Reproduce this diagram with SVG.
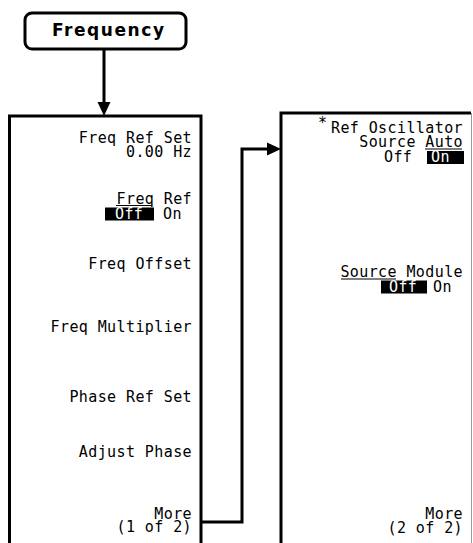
<svg xmlns="http://www.w3.org/2000/svg" width="473" height="543" viewBox="0 0 473 543">
<style>
.box{fill:#fff;stroke:#000;stroke-width:3}
.ln{fill:none;stroke:#000;stroke-width:3}
.t{font-family:"DejaVu Sans Mono","Liberation Mono",monospace;font-size:15px;letter-spacing:0.4px;fill:#000;text-anchor:end}
.ts{font-family:"DejaVu Sans Mono","Liberation Mono",monospace;font-size:15px;letter-spacing:0.4px;fill:#000}
.w{fill:#fff}
.hl{fill:#000}
.u{stroke:#000;stroke-width:1.2}
</style>
<g id="connectors">
<path class="ln" d="M104,49 V104"/>
<path d="M97.5,102 L110.5,102 L104,116 Z" fill="#000"/>
<path class="ln" d="M201,522 H242 V149 H268"/>
<path d="M267,142.5 L281,149 L267,155.5 Z" fill="#000"/>
</g>
<g id="frequency">
<rect x="25" y="13" width="161" height="36" rx="7" class="box"/>
<text x="108" y="36" font-family="DejaVu Sans,Liberation Sans,sans-serif" font-weight="bold" font-size="17" text-anchor="middle" textLength="112" lengthAdjust="spacing">Frequency</text>
</g>
<g id="menu1">
<path class="box" d="M9.5,560 V116 H201 V560"/>
<text class="t" x="192" y="143">Freq Ref Set</text>
<text class="t" x="192" y="156.5">0.00 Hz</text>
<text class="t" x="192" y="203.5">Freq Ref</text>
<line class="u" x1="116" y1="205.5" x2="152" y2="205.5"/>
<rect class="hl" x="105" y="207.5" width="49" height="13"/>
<text class="ts w" x="115" y="219">Off</text>
<text class="ts" x="163" y="219">On</text>
<text class="t" x="192" y="269">Freq Offset</text>
<text class="t" x="192" y="331.5">Freq Multiplier</text>
<text class="t" x="192" y="402">Phase Ref Set</text>
<text class="t" x="192" y="457">Adjust Phase</text>
<text class="t" x="192" y="519">More</text>
<text class="t" x="192" y="532">(1 of 2)</text>
</g>
<g id="menu2">
<path class="box" d="M281,560 V113 H471"/>
<line x1="471.5" y1="113" x2="471.5" y2="543" stroke="#999" stroke-width="1"/>
<text class="t" x="463" y="133">Ref Oscillator</text>
<text class="ts" x="318" y="128">*</text>
<text class="t" x="463" y="147">Source Auto</text>
<line class="u" x1="425" y1="149" x2="462" y2="149"/>
<text class="ts" x="384" y="162">Off</text>
<rect class="hl" x="427" y="151" width="37" height="13"/>
<text class="ts w" x="431" y="162">On</text>
<text class="t" x="463" y="277">Source Module</text>
<line class="u" x1="341" y1="279" x2="396" y2="279"/>
<rect class="hl" x="381" y="280.5" width="46" height="13"/>
<text class="ts w" x="389" y="292">Off</text>
<text class="ts" x="433" y="292">On</text>
<text class="t" x="463" y="519">More</text>
<text class="t" x="463" y="533">(2 of 2)</text>
</g>
</svg>
